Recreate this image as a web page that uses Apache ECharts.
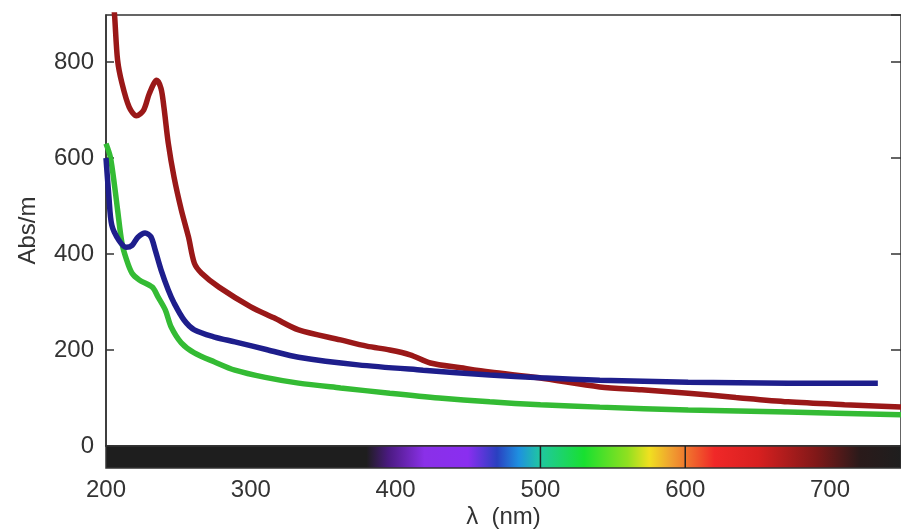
<!DOCTYPE html>
<html>
<head>
<meta charset="utf-8">
<title>Abs/m</title>
<script src="https://cdn.jsdelivr.net/npm/echarts@6.0.0/dist/echarts.min.js"></script>
<style>
html,body{margin:0;padding:0;background:#fff;}
#main{width:901px;height:530px;}
</style>
</head>
<body>
<div id="main"></div>
<script>
// 波长轴 / 吸光度轴
var xTicks = [200, 300, 400, 500, 600, 700];
var yTicks = [0, 200, 400, 600, 800];

// 红线
var redNm  = [202, 206, 208, 211, 216, 221, 226, 230, 235, 238, 240, 243, 247, 252, 257, 261, 266, 278, 300, 316, 333, 362, 380, 396, 410, 424, 445, 465, 499, 541, 570, 602, 635, 671, 710, 749];
var redAbs = [1060, 894, 804, 756, 706, 688, 700, 735, 762, 745, 706, 631, 560, 492, 435, 381, 360, 331, 290, 267, 242, 221, 208, 200, 190, 173, 163, 154, 142, 123, 117, 110, 101, 92, 86, 81];

// 蓝线
var blueNm  = [200, 202, 204, 209, 214, 218, 222, 227, 231, 234, 238, 243, 247, 254, 261, 275, 289, 312, 333, 374, 419, 465, 500, 541, 602, 671, 733];
var blueAbs = [600, 520, 460, 428, 414, 418, 435, 444, 436, 408, 367, 325, 298, 262, 242, 227, 217, 200, 185, 169, 158, 148, 142, 137, 133, 131, 131];

// 绿线
var greenNm  = [200, 203, 206, 208, 211, 214, 218, 223, 232, 236, 241, 245, 252, 261, 275, 289, 310, 333, 362, 396, 430, 465, 500, 541, 602, 671, 749];
var greenAbs = [630, 602, 540, 492, 423, 390, 360, 346, 331, 310, 283, 248, 215, 194, 175, 158, 143, 131, 121, 110, 100, 92, 86, 81, 75, 71, 65];

// 光谱色条
var spectrumNm     = [200, 380, 395, 420, 450, 470, 485, 500, 530, 560, 575, 590, 620, 650, 690, 720, 749];
var spectrumColors = ['#1e1e1e', '#1e1e1e', '#4a1a80', '#8a30e8', '#8a2ef0', '#2a40c0', '#1e90e0', '#20c8a0', '#18e030', '#90e020', '#f0e020', '#f0a030', '#f02828', '#d82020', '#801818', '#2a1a1a', '#1e1e1e'];
var spectrumMarks  = [500, 600];

var xMin = 200, xMax = 749, yMin = 0, yMax = 898;

function pairs(xs, ys){
	var out = [];
	for(var i=0;i<xs.length;i++){
		out.push([xs[i], ys[i]]);
	}
	return out;
}

var txt = {fontFamily: 'Liberation Sans', fontSize: 24, color: '#333'};

var myChart = echarts.init(document.getElementById('main'), null, {renderer: 'canvas'});

myChart.setOption({
	backgroundColor: '#fff',
	animation: false,
	grid: [
		{left: 106, right: -5, top: 15, bottom: 84, show: true, borderColor: '#333', borderWidth: 1.5, backgroundColor: '#fff'},
		{left: 106, right: -5, top: 446, height: 29}
	],
	xAxis: [
		{
			type: 'value', gridIndex: 0, min: xMin, max: xMax, interval: 100,
			axisLine: {show: true, lineStyle: {color: '#333', width: 1.5}},
			axisTick: {show: false}, axisLabel: {show: false}, splitLine: {show: false}
		},
		{
			type: 'value', gridIndex: 1, min: xMin, max: xMax, interval: 100,
			axisLine: {show: false}, axisTick: {show: false}, splitLine: {show: false},
			axisLabel: {
				margin: 10, showMaxLabel: false,
				fontFamily: txt.fontFamily, fontSize: txt.fontSize, color: txt.color,
				formatter: function(v){ return xTicks.indexOf(v) >= 0 ? String(v) : ''; }
			},
			name: 'λ  (nm)', nameLocation: 'middle', nameGap: 37,
			nameTextStyle: {fontFamily: txt.fontFamily, fontSize: 24, color: txt.color}
		}
	],
	yAxis: [
		{
			type: 'value', gridIndex: 0, min: yMin, max: yMax, interval: 200,
			axisLine: {show: true, lineStyle: {color: '#333', width: 1.5}},
			axisTick: {show: true, inside: true, length: 8, lineStyle: {color: '#333', width: 1.5}},
			splitLine: {show: false},
			axisLabel: {
				margin: 12, showMaxLabel: false,
				fontFamily: txt.fontFamily, fontSize: txt.fontSize, color: txt.color,
				formatter: function(v){ return yTicks.indexOf(v) >= 0 ? String(v) : ''; }
			},
			name: 'Abs/m', nameLocation: 'middle', nameGap: 66, nameRotate: 90,
			nameTextStyle: {fontFamily: txt.fontFamily, fontSize: 24, color: txt.color}
		},
		{
			type: 'value', gridIndex: 0, min: yMin, max: yMax, interval: 200, position: 'right',
			axisLine: {show: true, lineStyle: {color: '#333'}},
			axisTick: {show: true, inside: true, length: 10, lineStyle: {color: '#333', width: 1.5}},
			axisLabel: {show: false}, splitLine: {show: false}
		},
		{type: 'value', gridIndex: 1, min: 0, max: 1, show: false}
	],
	series: [
		{
			type: 'custom', xAxisIndex: 1, yAxisIndex: 2, silent: true,
			data: [[xMin, 0]],
			renderItem: function(params, api){
				var p0 = api.coord([xMin, 1]);
				var p1 = api.coord([xMax, 0]);
				var stops = [];
				for(var i=0;i<spectrumNm.length;i++){
					stops.push({offset: (spectrumNm[i]-xMin)/(xMax-xMin), color: spectrumColors[i]});
				}
				var kids = [{
					type: 'rect',
					shape: {x: p0[0], y: p0[1], width: p1[0]-p0[0], height: p1[1]-p0[1]},
					style: {fill: new echarts.graphic.LinearGradient(0, 0, 1, 0, stops), stroke: '#333', lineWidth: 1.5}
				}];
				for(var j=0;j<spectrumMarks.length;j++){
					var m = api.coord([spectrumMarks[j], 0])[0];
					kids.push({type: 'line', shape: {x1: m, y1: p0[1], x2: m, y2: p1[1]}, style: {stroke: '#222', lineWidth: 1.5}});
				}
				return {type: 'group', children: kids};
			}
		},
		{
			name: 'red', type: 'line', xAxisIndex: 0, yAxisIndex: 0, data: pairs(redNm, redAbs),
			showSymbol: false, smooth: 0.3, clip: true,
			lineStyle: {color: '#9a1818', width: 5.5}
		},
		{
			name: 'green', type: 'line', xAxisIndex: 0, yAxisIndex: 0, data: pairs(greenNm, greenAbs),
			showSymbol: false, smooth: 0.3, clip: true,
			lineStyle: {color: '#34bb34', width: 5.5}
		},
		{
			name: 'blue', type: 'line', xAxisIndex: 0, yAxisIndex: 0, data: pairs(blueNm, blueAbs),
			showSymbol: false, smooth: 0.3, clip: true,
			lineStyle: {color: '#1e1e8c', width: 5.5}
		}
	]
});
</script>
</body>
</html>
